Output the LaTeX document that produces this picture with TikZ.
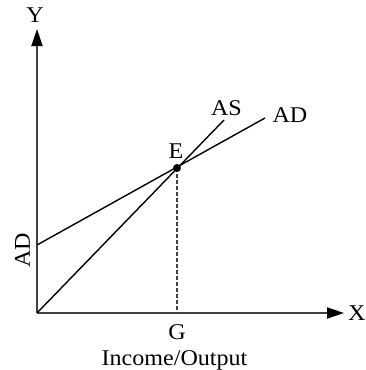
\documentclass[tikz,border=0pt]{standalone}
\usepackage{fontspec}
\setmainfont{Liberation Serif}[FakeStretch=1.07]
\usetikzlibrary{arrows.meta}

\begin{document}
\begin{tikzpicture}[x=1pt, y=-1pt,
    axis/.style={line width=1.8pt, black!75, -{Triangle[length=17pt, width=11pt, black]}},
    curve/.style={line width=1.4pt},
    lbl/.style={font=\fontsize{22.5}{26}\selectfont, inner sep=0pt, anchor=base}]
				\useasboundingbox (0,0) rectangle (365,370);
				% Points
				\coordinate (O) at (37,313);
				\coordinate (Ytop) at (37,29);
				\coordinate (Xend) at (344,313);
				\coordinate (A) at (37,245);
				\coordinate (E) at (177,168);
				\coordinate (G) at (177,313);
				\coordinate (ASend) at (224,120);
				\coordinate (ADend) at (265,118);
				
				% Draw axes
				\draw[axis] (O) -- (Ytop);
				\draw[axis] (O) -- (Xend);
				
				% AS and AD lines
				\draw[curve] (O) -- (ASend);
				\draw[curve] (A) -- (ADend);
				\draw[line width=2.4pt, black!75, dash pattern=on 3.5pt off 2.5pt] (E) -- (G);
				\fill (E) circle (4pt);
				
				% Labels
				\node[lbl] (ylab) at (35,22) {Y};
				\node[lbl, anchor=base west] (xlab) at (348,320) {X};
				\node[lbl] (elab) at (176,158) {E};
				\node[lbl] (aslab) at (226.5,115) {AS};
				\node[lbl] (adlab) at (290,122) {AD};
				\node[lbl, rotate=90] (adint) at (30,250) {AD};
				\node[lbl] (glab) at (177,339) {G};
				\node[lbl] (xname) at (174.5,365) {Income/Output};
			\end{tikzpicture}
\end{document}
